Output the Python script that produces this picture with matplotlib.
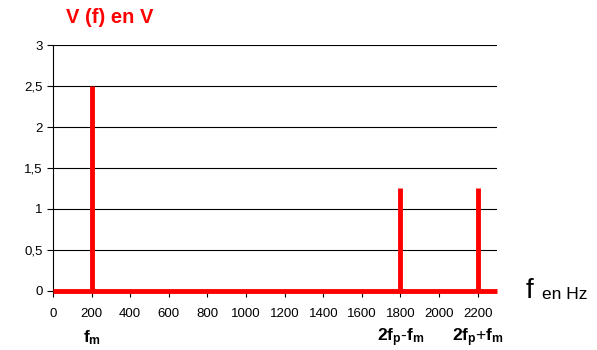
import matplotlib.pyplot as plt

# spectrum lines
freqs = [200, 1800, 2200]
amps = [2.5, 1.25, 1.25]
line_names = [r'$\mathbf{f_m}$', r'$\mathbf{2f_p\text{-}f_m}$', r'$\mathbf{2f_p\text{+}f_m}$']
x_ticks = list(range(0, 2201, 200))
y_ticks = [0, 0.5, 1, 1.5, 2, 2.5, 3]
y_labels = ['0', '0,5', '1', '1,5', '2', '2,5', '3']

plt.rcParams['font.family'] = 'Liberation Sans'
plt.rcParams['mathtext.fontset'] = 'custom'
plt.rcParams['mathtext.rm'] = 'Liberation Sans'
plt.rcParams['mathtext.bf'] = 'Liberation Sans:bold'

fig = plt.figure(figsize=(5.97, 3.5), dpi=100)
ax = fig.add_axes([0.0888, 0.1686, 0.7437, 0.7028])

ax.set_xlim(0, 2300)
ax.set_ylim(0, 3)
ax.set_yticks(y_ticks)
ax.set_yticklabels(y_labels, fontsize=9.5)
ax.set_xticks(x_ticks)
ax.set_xticklabels([str(v) for v in x_ticks], fontsize=9.5)
ax.grid(axis='y', color='black', linewidth=0.8)
ax.set_axisbelow(True)
for s in ['top', 'right', 'bottom']:
    ax.spines[s].set_visible(False)
ax.spines['left'].set_linewidth(0.8)
ax.tick_params(axis='both', direction='out', length=4, width=0.8, colors='black')
ax.tick_params(axis='x', pad=8)

ax.plot([0, 2300], [0, 0], color='red', lw=3.5, solid_capstyle='butt', clip_on=False, zorder=3)
ax.vlines(freqs, 0, amps, color='red', lw=3.5, zorder=3)

for f, name in zip(freqs, line_names):
    ax.text(f, -0.57, name, ha='center', va='center', fontsize=12.5, transform=ax.transData)

fig.text(0.11, 0.95, 'V (f) en V', color='red', fontsize=14.5, fontweight='bold', ha='left', va='center')
ax.text(2450, 0, 'f', fontsize=20, ha='left', va='center')
ax.text(2535, -0.04, 'en Hz', fontsize=12.5, ha='left', va='center')

fig.savefig('out.png', dpi=100)
